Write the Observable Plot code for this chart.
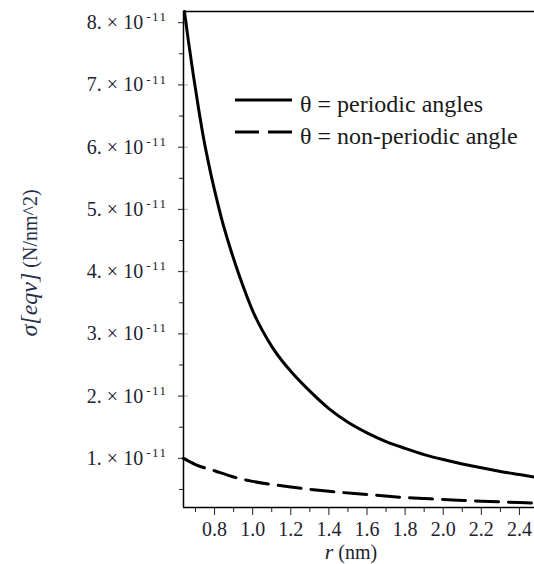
<!DOCTYPE html>
<html><head><meta charset="utf-8">
<script src="https://cdn.jsdelivr.net/npm/d3@7"></script>
<script src="https://cdn.jsdelivr.net/npm/@observablehq/plot@0.6"></script>
<style>
body{margin:0;background:#fff;}
#chart{width:534px;height:564px;overflow:hidden;}
</style></head><body><div id="chart"></div>
<script>
// values of sigma in units of 1e-11 N/nm^2
const rPeriodic = [0.642, 0.663, 0.689, 0.716, 0.742, 0.777, 0.810, 0.836, 0.884, 0.926, 0.96, 1.0, 1.05, 1.1, 1.156, 1.2, 1.3, 1.4, 1.5, 1.6, 1.7, 1.8, 1.9, 2.0, 2.1, 2.2, 2.3, 2.4, 2.479];
const sigmaPeriodic = [8.18, 7.70, 7.15, 6.62, 6.15, 5.62, 5.18, 4.86, 4.36, 3.97, 3.68, 3.37, 3.06, 2.80, 2.56, 2.40, 2.08, 1.80, 1.58, 1.41, 1.27, 1.16, 1.06, 0.98, 0.91, 0.85, 0.79, 0.74, 0.70];
const rNonPeriodic = [0.637, 0.70, 0.80, 0.90, 1.0, 1.2, 1.4, 1.6, 1.8, 2.0, 2.2, 2.4, 2.479];
const sigmaNonPeriodic = [1.0, 0.90, 0.80, 0.70, 0.63, 0.54, 0.47, 0.42, 0.37, 0.34, 0.31, 0.29, 0.28];
const seriesNames = ["θ = periodic angles", "θ = non-periodic angle"];
const yTicks = [1, 2, 3, 4, 5, 6, 7, 8];
const yMinorTicks = [0.5, 1.5, 2.5, 3.5, 4.5, 5.5, 6.5, 7.5];
const xTicks = [0.8, 1.0, 1.2, 1.4, 1.6, 1.8, 2.0, 2.2, 2.4];
const xMinorTicks = [0.7, 0.9, 1.1, 1.3, 1.5, 1.7, 1.9, 2.1, 2.3];
const xDomain = [0.637, 2.479];
const yDomain = [0.21, 8.18];

const periodic = rPeriodic.map((r, i) => ({r, s: sigmaPeriodic[i]}));
const nonPeriodic = rNonPeriodic.map((r, i) => ({r, s: sigmaNonPeriodic[i]}));

const font = '"Liberation Serif", "Times New Roman", serif';
const svg = Plot.plot({
  width: 534, height: 564,
  marginTop: 11, marginBottom: 57, marginLeft: 183, marginRight: 0,
  style: {fontFamily: font, fontSize: "20px", color: "#1e2230", background: "#fff", overflow: "visible"},
  x: {domain: xDomain},
  y: {domain: yDomain},
  marks: [
    Plot.axisX({ticks: xTicks, tickSize: 8, tickPadding: 6, tickFormat: d => d.toFixed(1), label: null, fontSize: 20}),
    Plot.axisX({ticks: xMinorTicks, tickSize: 5, fill: "none", label: null}),
    Plot.axisY({ticks: yTicks, tickSize: 5, tickPadding: 11, tickFormat: d => d + ". × 10", label: null, fontSize: 20}),
    Plot.axisY({ticks: yTicks, tickSize: -5, fill: "none", stroke: "#aaa", label: null}),
    Plot.axisY({ticks: yMinorTicks, tickSize: 4, fill: "none", label: null}),
    Plot.ruleY([yDomain[1]], {stroke: "#000", strokeWidth: 1.5}),
    Plot.ruleY([yDomain[0]], {stroke: "#000", strokeWidth: 1.5}),
    Plot.ruleX([xDomain[0]], {stroke: "#000", strokeWidth: 1.5}),
    Plot.line(periodic, {x: "r", y: "s", stroke: "#000", strokeWidth: 3, curve: "monotone-x"}),
    Plot.line(nonPeriodic, {x: "r", y: "s", stroke: "#000", strokeWidth: 3, strokeDasharray: "23,10", curve: "monotone-x"})
  ]
});

const s = d3.select(svg);
// superscript exponent on y tick labels
s.selectAll('g[aria-label="y-axis tick label"] text').each(function () {
  d3.select(this).append("tspan").attr("dy", "-0.6em").attr("dx", "3").attr("font-size", "13px").attr("letter-spacing", "1.5").text("-11");
});
// y label
const yl = s.append("text").attr("transform", "translate(37,263) rotate(-90)")
  .attr("text-anchor", "middle").attr("fill", "#27304a").attr("font-family", font);
yl.append("tspan").attr("font-style", "italic").attr("font-size", "24px").text("σ[eqv]");
yl.append("tspan").attr("font-size", "20px").text(" (N/nm^2)");
// x label
const xl = s.append("text").attr("x", 351).attr("y", 559)
  .attr("text-anchor", "middle").attr("fill", "#1e2230").attr("font-family", font).attr("font-size", "20px");
xl.append("tspan").attr("font-style", "italic").attr("font-size", "22px").text("r");
xl.append("tspan").text(" (nm)");
// legend
const lg = s.append("g").attr("font-family", font).attr("font-size", "24px").attr("fill", "#1a1a1a").attr("text-anchor", "start");
const dashes = [null, "24,9"];
seriesNames.forEach((name, i) => {
  const y = 100 + i * 32;
  lg.append("line").attr("x1", 235).attr("x2", 292).attr("y1", y).attr("y2", y)
    .attr("stroke", "#000").attr("stroke-width", 3).attr("stroke-dasharray", dashes[i]);
  lg.append("text").attr("x", 300).attr("y", y + 12).attr("text-anchor", "start").text(name);
});
document.getElementById("chart").appendChild(svg);
</script>
</body></html>
